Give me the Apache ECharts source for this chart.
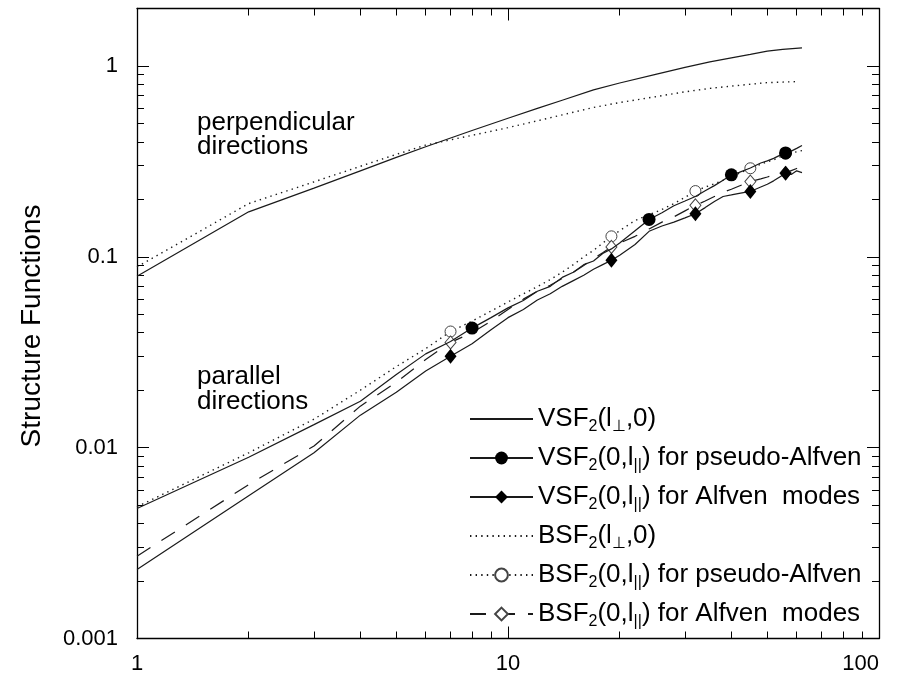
<!DOCTYPE html>
<html><head><meta charset="utf-8">
<script src="https://cdn.jsdelivr.net/npm/echarts@6/dist/echarts.min.js"></script>
<style>html,body{margin:0;padding:0;background:#fff}#c{width:900px;height:680px}</style>
</head><body><div id="c"></div>
<script>
const FONT = '"Liberation Sans", Arial, Helvetica, sans-serif';

// ---- tick values ----
const xMajor = [1, 10, 100];
const xMinor = [2,3,4,5,6,7,8,9,20,30,40,50,60,70,80,90];
const yMajor = [0.001, 0.01, 0.1, 1];
const yMinor = [0.002,0.003,0.004,0.005,0.006,0.007,0.008,0.009,0.02,0.03,0.04,0.05,0.06,0.07,0.08,0.09,0.2,0.3,0.4,0.5,0.6,0.7,0.8,0.9];

// ---- perpendicular directions ----
const xPerpV = [1,2,3,4,5,6,8,10,12,14,17,20,25,30,35,40,45,50,55,62];
const vsfPerp = [0.079,0.172,0.229,0.282,0.332,0.377,0.459,0.532,0.599,0.661,0.749,0.814,0.904,0.983,1.05,1.103,1.151,1.197,1.222,1.245];
const xPerpB = [1,2,3,4,5,6,8,10,12,14,17,20,25,30,35,40,45,50,55,60];
const bsfPerp = [0.0885,0.19,0.247,0.298,0.344,0.385,0.433,0.475,0.516,0.554,0.606,0.643,0.69,0.732,0.763,0.784,0.802,0.818,0.823,0.828];

// ---- parallel directions ----
const xPar = [1,2,3,4,5,6,7,8,9,10,11,12,13,14,15,16,17,18,19,20,22,24,26,28,30,32,34,36,38,40,42,45,48,50,52,54,56,58,60,62];
const vsfPA = [0.0048,0.0089,0.0132,0.0175,0.0242,0.031,0.036,0.0423,0.048,0.054,0.059,0.066,0.070,0.078,0.083,0.091,0.095,0.104,0.110,0.118,0.137,0.157,0.170,0.185,0.196,0.207,0.222,0.236,0.252,0.269,0.277,0.292,0.31,0.318,0.328,0.34,0.35,0.358,0.37,0.383];
const vsfA  = [0.0023,0.0056,0.0094,0.0148,0.0195,0.0252,0.0301,0.035,0.0415,0.048,0.053,0.0594,0.064,0.070,0.075,0.080,0.086,0.091,0.096,0.102,0.116,0.136,0.145,0.152,0.160,0.168,0.181,0.195,0.207,0.211,0.215,0.220,0.232,0.24,0.25,0.262,0.274,0.27,0.282,0.276];
const bsfPA = [0.0049,0.0094,0.0141,0.0200,0.0266,0.033,0.0406,0.046,0.052,0.058,0.064,0.0697,0.076,0.083,0.091,0.100,0.108,0.118,0.128,0.137,0.155,0.166,0.177,0.19,0.205,0.221,0.232,0.241,0.252,0.263,0.274,0.291,0.305,0.315,0.322,0.333,0.347,0.35,0.355,0.36];
const bsfA  = [0.0027,0.0064,0.0102,0.0165,0.022,0.029,0.0356,0.040,0.046,0.053,0.060,0.066,0.071,0.077,0.083,0.090,0.098,0.105,0.1127,0.118,0.128,0.140,0.152,0.162,0.174,0.186,0.196,0.207,0.218,0.226,0.235,0.248,0.256,0.262,0.268,0.272,0.275,0.283,0.29,0.296];

// marker positions (lags)
const markVsfPA = [8,24,40,56];
const markVsfA  = [7,19,32,45,56];
const markBsfPA = [7,19,32,45,56];
const markBsfA  = [7,19,32,45,56];

const names = ['vsfPerp','vsfPA','vsfA','bsfPerp','bsfPA','bsfA'];
const legendText = {
  vsfPerp: '{n|VSF}{s|2}{n|(l}{s|\u22a5}{n|,0)}',
  vsfPA:   '{n|VSF}{s|2}{n|(0,l}{s|||}{n|) for pseudo-Alfven}',
  vsfA:    '{n|VSF}{s|2}{n|(0,l}{s|||}{n|) for Alfven  modes}',
  bsfPerp: '{n|BSF}{s|2}{n|(l}{s|\u22a5}{n|,0)}',
  bsfPA:   '{n|BSF}{s|2}{n|(0,l}{s|||}{n|) for pseudo-Alfven}',
  bsfA:    '{n|BSF}{s|2}{n|(0,l}{s|||}{n|) for Alfven  modes}'
};

function pts(xs, ys, marks, sym) {
  return xs.map((x, i) => ({ value: [x, ys[i]], symbol: marks.indexOf(x) >= 0 ? sym : 'none' }));
}

const LINE = '#1a1a1a';
const DOT = [1.4, 4.2];
const DASH = [16, 13];
const NOSYM = { color: 'rgba(0,0,0,0)', borderWidth: 0, opacity: 0 };

function axisX(pos, vals, len, showLabel, showLine) {
  return {
    type: 'log', logBase: 10, min: 1, max: 100, position: pos,
    axisLine: { show: showLine, onZero: false, lineStyle: { color: '#000', width: 1.3 } },
    axisTick: { show: true, inside: true, length: len, customValues: vals, lineStyle: { color: '#000', width: 1 } },
    axisLabel: { show: showLabel, customValues: xMajor, color: '#000', fontSize: 22, fontFamily: FONT, margin: 14, alignMaxLabel: 'right' },
    splitLine: { show: false }, minorTick: { show: false }
  };
}
function axisY(pos, vals, len, showLabel, showLine) {
  return {
    type: 'log', logBase: 10, min: 0.001, max: 2, position: pos,
    axisLine: { show: showLine, onZero: false, lineStyle: { color: '#000', width: 1.3 } },
    axisTick: { show: true, inside: true, length: len, customValues: vals, lineStyle: { color: '#000', width: 1 } },
    axisLabel: { show: showLabel, customValues: yMajor, color: '#000', fontSize: 22, fontFamily: FONT, margin: 19,
      formatter: v => String(v) },
    splitLine: { show: false }, minorTick: { show: false }
  };
}

const chart = echarts.init(document.getElementById('c'), null, { renderer: 'canvas' });
chart.setOption({
  animation: false,
  backgroundColor: '#fff',
  grid: { left: 137, right: 21, top: 8.5, bottom: 41.5, show: false },
  xAxis: [
    axisX('bottom', xMajor, 12, true, true),
    axisX('top', xMajor, 12, false, true),
    axisX('bottom', xMinor, 7, false, false),
    axisX('top', xMinor, 7, false, false)
  ],
  yAxis: [
    axisY('left', yMajor, 12, true, true),
    axisY('right', yMajor, 12, false, true),
    axisY('left', yMinor, 7, false, false),
    axisY('right', yMinor, 7, false, false)
  ],
  legend: {
    orient: 'vertical', left: 464, top: 401, itemWidth: 63, itemHeight: 16, itemGap: 10,
    selectedMode: false, data: names,
    formatter: n => legendText[n],
    textStyle: {
      color: '#000', fontFamily: FONT,
      rich: {
        n: { fontSize: 26, lineHeight: 32, verticalAlign: 'middle', fontFamily: FONT, color: '#000' },
        s: { fontSize: 16, lineHeight: 2, verticalAlign: 'bottom', fontFamily: FONT, color: '#000' }
      }
    }
  },
  graphic: [
    { type: 'text', x: 32, y: 326, rotation: Math.PI / 2, style: { x: 0, y: 0, text: 'Structure Functions', fill: '#000', font: '28px ' + FONT, align: 'center', verticalAlign: 'middle' } },
    { type: 'text', x: 197, y: 123, style: { text: 'perpendicular', fill: '#000', font: '26px ' + FONT, verticalAlign: 'middle' } },
    { type: 'text', x: 197, y: 147, style: { text: 'directions', fill: '#000', font: '26px ' + FONT, verticalAlign: 'middle' } },
    { type: 'text', x: 197, y: 377, style: { text: 'parallel', fill: '#000', font: '26px ' + FONT, verticalAlign: 'middle' } },
    { type: 'text', x: 197, y: 402, style: { text: 'directions', fill: '#000', font: '26px ' + FONT, verticalAlign: 'middle' } }
  ],
  series: [
    { name: 'vsfPerp', type: 'line', data: pts(xPerpV, vsfPerp, [], 'none'), symbol: 'none',
      lineStyle: { color: LINE, width: 1.2 }, itemStyle: NOSYM },
    { name: 'vsfPA', type: 'line', data: pts(xPar, vsfPA, markVsfPA, 'circle'), symbol: 'circle', symbolSize: 13, showSymbol: true,
      lineStyle: { color: LINE, width: 1.2 }, itemStyle: { color: '#000' }, z: 4 },
    { name: 'vsfA', type: 'line', data: pts(xPar, vsfA, markVsfA, 'diamond'), symbol: 'diamond', symbolSize: [12, 15], showSymbol: true,
      lineStyle: { color: LINE, width: 1.2 }, itemStyle: { color: '#000' }, z: 4 },
    { name: 'bsfPerp', type: 'line', data: pts(xPerpB, bsfPerp, [], 'none'), symbol: 'none',
      lineStyle: { color: LINE, width: 1.4, type: DOT }, itemStyle: NOSYM },
    { name: 'bsfPA', type: 'line', data: pts(xPar, bsfPA, markBsfPA, 'circle'), symbol: 'circle', symbolSize: 11, showSymbol: true,
      lineStyle: { color: LINE, width: 1.4, type: DOT }, itemStyle: { color: '#fff', borderColor: '#444', borderWidth: 1 }, z: 3 },
    { name: 'bsfA', type: 'line', data: pts(xPar, bsfA, markBsfA, 'diamond'), symbol: 'diamond', symbolSize: [11, 13], showSymbol: true,
      lineStyle: { color: LINE, width: 1.2, type: DASH }, itemStyle: { color: '#fff', borderColor: '#444', borderWidth: 1 }, z: 3 }
  ]
});
</script></body></html>
